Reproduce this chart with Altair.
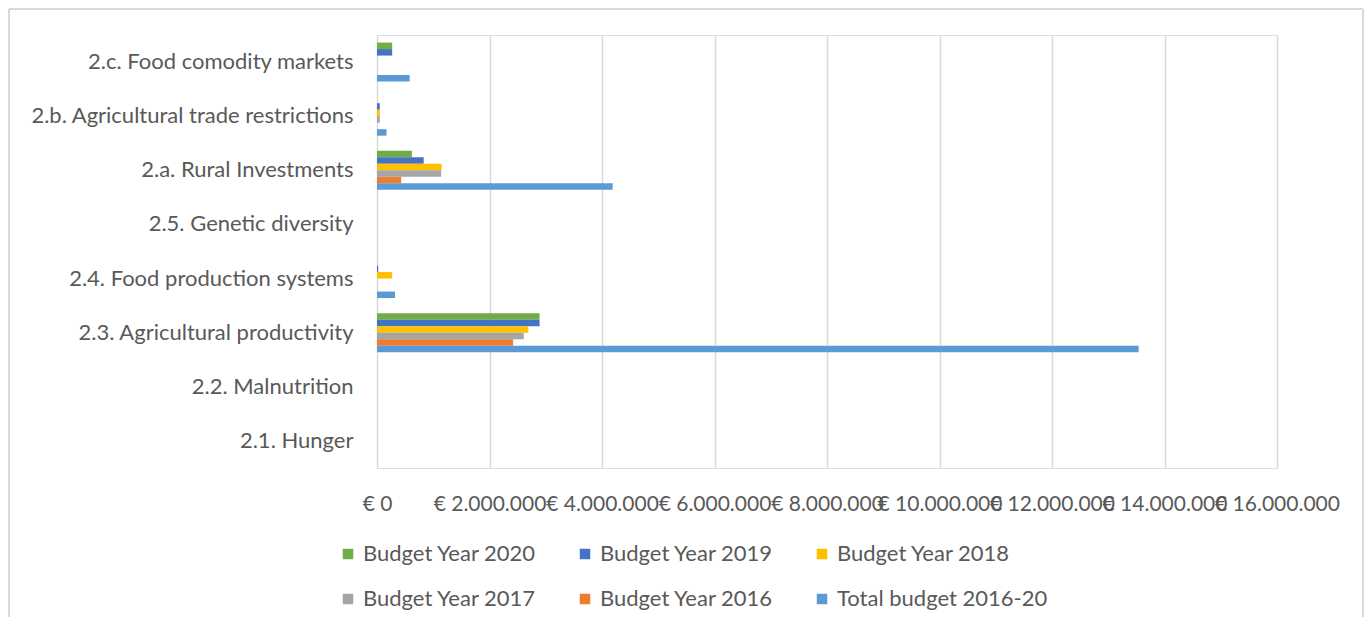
import altair as alt
import pandas as pd

categories = [
    "2.c. Food comodity markets",
    "2.b. Agricultural trade restrictions",
    "2.a. Rural Investments",
    "2.5. Genetic diversity",
    "2.4. Food production systems",
    "2.3. Agricultural productivity",
    "2.2. Malnutrition",
    "2.1. Hunger",
]
series = ["Budget Year 2020", "Budget Year 2019", "Budget Year 2018",
          "Budget Year 2017", "Budget Year 2016", "Total budget 2016-20"]
colors = ["#70AD47", "#4472C4", "#FFC000", "#A5A5A5", "#ED7D31", "#5B9BD5"]

budget_2020 = [270000, 0, 620000, 0, 0, 2890000, 0, 0]
budget_2019 = [270000, 50000, 830000, 0, 20000, 2890000, 0, 0]
budget_2018 = [0, 50000, 1150000, 0, 270000, 2690000, 0, 0]
budget_2017 = [0, 50000, 1140000, 0, 0, 2610000, 0, 0]
budget_2016 = [0, 0, 430000, 0, 0, 2420000, 0, 0]
total_2016_20 = [580000, 170000, 4190000, 0, 320000, 13540000, 0, 0]

x_ticks = [0, 2000000, 4000000, 6000000, 8000000, 10000000, 12000000, 14000000, 16000000]

values = [budget_2020, budget_2019, budget_2018, budget_2017, budget_2016, total_2016_20]
rows = []
for s, vals in zip(series, values):
    for c, v in zip(categories, vals):
        rows.append({"category": c, "series": s, "value": v})
df = pd.DataFrame(rows)

FONT = "Lato"
GREY = "#595959"

bars = alt.Chart(df).mark_bar().encode(
    y=alt.Y("category:N", sort=categories, title=None,
            scale=alt.Scale(paddingInner=0.28, paddingOuter=0.14),
            axis=alt.Axis(domain=False, ticks=False, labelPadding=24,
                          labelFont=FONT, labelFontSize=22, labelColor=GREY,
                          labelLimit=400)),
    yOffset=alt.YOffset("series:N", sort=series),
    x=alt.X("value:Q", title=None,
            scale=alt.Scale(domain=[0, 16000000], nice=False),
            axis=alt.Axis(values=x_ticks, domain=False, ticks=False,
                          gridColor="#D9D9D9", gridWidth=1.5,
                          labelPadding=25, labelOverlap=False, labelFlush=False,
                          labelFont=FONT, labelFontSize=21, labelColor=GREY,
                          labelExpr="'€ ' + replace(format(datum.value, ','), /,/g, '.')")),
    color=alt.Color("series:N", sort=series,
                    scale=alt.Scale(domain=series, range=colors),
                    legend=alt.Legend(title=None, orient="none", legendX=-40, legendY=508,
                                      direction="horizontal", columns=3, gridAlign="all",
                                      columnPadding=0, rowPadding=23,
                                      symbolType="square", symbolSize=110,
                                      symbolStrokeWidth=0, labelOffset=4,
                                      labelFont=FONT, labelFontSize=22, labelColor=GREY,
                                      labelLimit=400)),
)

one = pd.DataFrame({"k": [0]})
frame_color = "#D9D9D9"
left_edge = alt.Chart(one).mark_rule(color=frame_color, strokeWidth=2).encode(
    x=alt.value(-368), y=alt.value(-26), y2=alt.value(582))
right_edge = alt.Chart(one).mark_rule(color=frame_color, strokeWidth=2).encode(
    x=alt.value(986), y=alt.value(-26), y2=alt.value(582))
top_edge = alt.Chart(one).mark_rule(color=frame_color, strokeWidth=2).encode(
    x=alt.value(-368), x2=alt.value(986), y=alt.value(-26))

chart = alt.layer(bars, left_edge, right_edge, top_edge).properties(
    width=900, height=433,
    autosize=alt.AutoSizeParams(type="none"),
    padding={"left": 369, "top": 27, "right": 87, "bottom": 149},
).configure_view(stroke=None).configure(background="white")

chart.save("out.html", embed_options={"renderer": "svg", "actions": False})
